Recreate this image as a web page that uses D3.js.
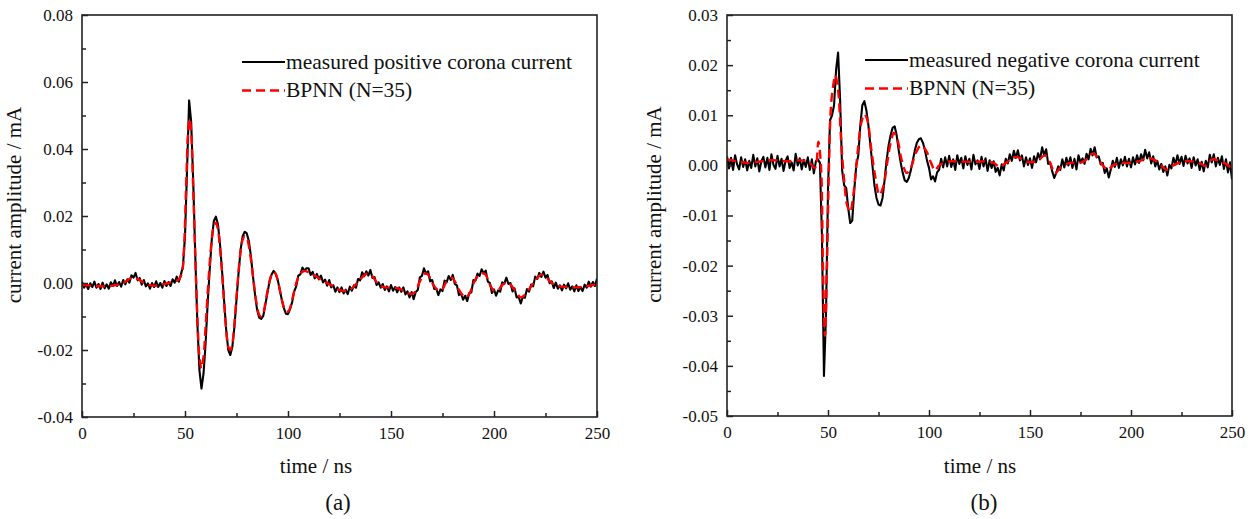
<!DOCTYPE html>
<html>
<head>
<meta charset="utf-8">
<script src="https://cdn.jsdelivr.net/npm/d3@7"></script>
<style>
  body { margin: 0; background: #fff; }
  svg { display: block; }
  svg text { font-family: "Liberation Serif", "Times New Roman", serif; }
</style>
</head>
<body>
<div id="chart"></div>
<script>
// Sampling step of the measured records (ns)
const sampleStep = 1;

// (a) measured positive corona current, µA, one value per ns from 0 to 250
const measuredA = [
  0.4, -1.4, -0.4, -1.8, -0.1, -1.2, 0.4, -1.4, -0.3, -1.8,
  0.1, -1.6, -0.4, -1.7, 0.2, -0.9, 0.8, -0.9, 0.3, -1.1,
  0.9, -0.4, 1.1, 0.1, 2.3, 1.6, 3.0, 0.8, 1.5, -0.5,
  0.9, -1.0, -0.1, -1.7, 0.0, -1.2, 0.5, -1.2, 0.0, -1.4,
  0.6, -0.9, 0.3, -0.9, 1.1, 0.1, 1.9, 0.4, 2.5, 5.0,
  14, 34, 54.5, 48, 30, 8, -12, -26, -31.5, -27,
  -18, -6, 4, 13, 18.5, 19.8, 17.5, 11.5, 3.5, -5.5,
  -14, -20, -21.5, -19, -13, -5, 3, 10, 14, 15.3,
  14.8, 12.5, 8, 2, -3.5, -8, -10.3, -10.7, -9.8, -6.5,
  -3, 0.3, 2.5, 3.6, 2.8, 1, -2, -5, -7.5, -9.2,
  -9.3, -7.8, -5.8, -2.5, -1.0, 2.2, 2.6, 4.6, 3.7, 4.4,
  4.4, 2.4, 3.3, 1.4, 2.7, 1.1, 2.2, 0.2, 1.0, -0.8,
  0.9, -1.3, -0.7, -2.6, -1.3, -2.7, -1.3, -3.1, -2.0, -3.3,
  -1.1, -2.3, -0.7, -1.4, 1.2, 0.8, 3.2, 2.0, 3.5, 2.2,
  3.9, 1.5, 1.8, -0.6, 0.2, -1.4, -0.3, -2.1, -1.0, -2.5,
  -0.6, -2.3, -1.2, -2.8, -1.3, -2.6, -1.3, -3.4, -2.5, -4.3,
  -2.7, -4.8, -2.7, -2.1, 1.7, 2.1, 4.4, 2.8, 3.5, 0.5,
  0.9, -1.8, -1.7, -3.6, -1.9, -2.4, 0.7, 0.2, 2.1, 0.9,
  2.4, -0.3, -0.7, -3.6, -3.1, -5.0, -3.8, -5.4, -3.0, -2.8,
  0.9, 0.7, 2.8, 2.1, 4.1, 2.9, 3.7, 0.4, 0.0, -3.0,
  -1.9, -3.8, -2.2, -2.6, 0.2, -0.2, 1.6, -0.3, 0.0, -2.5,
  -1.6, -4.3, -4.2, -6.1, -4.1, -4.4, -1.8, -2.6, -0.5, -1.0,
  1.9, 1.2, 3.0, 1.8, 3.4, 1.6, 2.4, -0.1, 0.5, -1.5,
  0.1, -1.7, -0.7, -2.2, -0.5, -1.6, -0.1, -2.0, -1.0, -2.5,
  -0.7, -2.4, -1.2, -2.4, -0.5, -1.4, 0.4, -1.1, 0.3, -0.9, 1.3
];

// (a) BPNN (N=35) output: [time ns, current µA]
const bpnnA = [
  [0, -0.5], [5, -0.8], [10, -1], [15, -0.8], [20, 0], [24, 1.5], [27, 1.2], [31, -0.3],
  [35, -0.8], [40, -0.3], [45, 0.5], [47, 1], [48.5, 3], [49.5, 10], [50.5, 28], [51.5, 45],
  [52.3, 49], [53, 45], [54, 28], [55, 8], [56, -10], [57, -22], [58, -25.5], [59, -22],
  [60, -13], [61, -3], [62, 6], [63, 13], [64, 17], [65, 18], [66, 16], [67, 10.5], [68, 3],
  [69, -6], [70, -14], [71, -19], [72, -20], [73, -18], [74, -12], [75, -4], [76, 3.5],
  [77, 9.5], [78, 13], [79, 14], [80, 13.5], [81, 11], [82, 7], [83, 2], [84, -3], [85, -7],
  [86, -9.5], [87, -10], [88, -9], [89, -6], [90, -2.5], [91, 0.5], [92, 2.5], [93, 3.3],
  [94, 2.8], [95, 0.8], [96, -2], [97, -5], [98, -7.3], [99, -8.5], [100, -8.5], [101, -7.5],
  [102, -5], [103, -2.5], [104, 0], [105, 1.7], [106, 2.8], [108, 3.6], [110, 3.2], [114, 1.8],
  [118, 0.3], [122, -1], [126, -2.3], [130, -2], [134, 0.3], [137, 2.3], [139, 2.8], [141, 2],
  [144, -0.5], [147, -1.3], [152, -1.4], [156, -2.2], [160, -3.3], [162, -2.5], [164, 0.5],
  [166.5, 2.8], [168, 2.5], [170, 0], [173, -2.2], [175, -1.8], [177, 0.5], [179.5, 1.6],
  [181, 0.5], [183, -2], [186, -4.3], [188, -3.3], [190, -0.2], [192, 2], [194.5, 2.9],
  [196, 2.4], [198, -0.5], [200, -2.3], [202, -2.2], [204, -0.6], [206.5, 0.2], [208, -0.5],
  [210, -2], [213, -4.3], [215, -3.5], [218, -1], [220, 0.8], [223, 2.5], [225, 2], [227, 0.6],
  [230, -0.7], [235, -1.2], [240, -1.3], [245, -1], [248, -0.6], [250, -0.2]
];

// (b) measured negative corona current, µA, one value per ns from 0 to 250
const measuredB = [
  1.8, -0.6, 1.5, -0.9, 2.0, 0.2, -0.8, 1.6, -0.3, 1.2,
  -1.0, 0.9, -0.5, 2.1, -0.2, 1.4, -1.2, 0.8, 1.7, -0.4,
  1.5, -0.9, 2.2, 0.1, -0.7, 1.9, -0.2, 1.3, -1.1, 0.9,
  1.8, -0.5, 0.6, -1.0, 2.3, 0.0, 1.4, -0.8, 1.1, -0.3,
  1.6, -0.9, 1.2, -1.6, 0.8, 1.2, 0.5, -14, -42, -30,
  -5, 9, 10, 12, 19, 22.5, 13, -1, -4, -4.5,
  -8.5, -11.5, -11, -5, 0, 2, 8, 12, 12.8, 11,
  8, 4, 0, -4, -6.5, -7.8, -8, -6.5, -3, 1,
  4, 6, 7.5, 7.8, 6, 3, 0.5, -1.5, -3, -3.3,
  -2.5, -1, 1, 3, 4.5, 5.2, 5.4, 4.5, 3, 1,
  -0.5, -2.8, -2.2, -3.2, -1.4, -0.9, 1.3, -0.4, 1.6, -0.2,
  1.9, -0.3, 1.2, -0.9, 2.0, 0.3, 1.5, -0.6, 1.8, 0.1,
  1.3, -0.8, 2.1, 0.2, 1.0, -0.7, 1.7, -0.2, 1.4, -1.1,
  1.0, -0.5, 0.8, -1.3, -0.5, -2.0, 0.2, -1.0, 1.3, 0.4,
  2.2, 0.9, 2.9, 1.5, 3.0, 1.0, 2.0, -0.2, 1.6, 0.1,
  1.4, -0.5, 1.8, 0.6, 2.4, 1.2, 3.6, 2.0, 3.2, 0.3,
  0.5, -1.2, -2.5, -1.5, -0.2, -0.9, 1.2, -0.4, 1.5, 0.0,
  1.6, -0.5, 1.3, -0.8, 2.0, 0.6, 1.4, 0.3, 2.3, 1.2,
  3.3, 2.0, 3.6, 1.6, 1.8, 0.2, 0.5, -1.5, -0.6, -2.4,
  -0.8, 0.9, -0.3, 1.5, -0.5, 1.2, 0.0, 1.7, -0.2, 1.3,
  -0.4, 1.6, 0.2, 2.0, 0.5, 2.2, 1.0, 3.1, 1.4, 2.6,
  0.4, 1.8, -0.2, 0.9, -0.8, 0.3, -1.3, -0.2, -2.0, 0.1,
  -0.6, 1.5, 0.2, 2.0, 0.3, 1.7, -0.1, 1.9, 0.4, 1.4,
  -0.5, 1.6, 0.0, 1.2, -0.9, 0.7, -1.2, 0.9, -0.4, 2.1,
  0.6, 2.2, -0.2, 1.5, 0.1, 1.8, -0.7, 1.2, -1.4, 0.6, -2.8
];

// (b) BPNN (N=35) output: [time ns, current µA]
const bpnnB = [
  [0, 1.2], [5, 0.8], [10, 0.5], [15, 0.7], [20, 1], [25, 1], [30, 0.8], [35, 1], [40, 0.8],
  [43.5, -0.5], [45.2, 4.7], [46.5, 0], [47.5, -20], [48.5, -34], [49.5, -20], [50.5, 0],
  [51.5, 12], [52.6, 16], [53.6, 18], [55, 15], [56.5, 5], [58, -3], [59.5, -8], [61, -9.3],
  [62.5, -6], [64.5, 2], [66.5, 8.5], [68, 10.2], [69.5, 9], [71.5, 3], [73.5, -2.5],
  [75.5, -5.9], [77.5, -4], [79.5, 1], [81, 4.5], [82.7, 6.5], [84.5, 5], [86.5, 1], [89, -1.5],
  [91, -0.5], [93.5, 2.5], [96, 4], [98.5, 3], [101, 0.5], [103, -1], [105, 0], [110, 0.8],
  [115, 0.8], [122, 0.7], [128, 0.8], [132, 0.5], [135, -0.3], [138, 0.5], [143.4, 1.7],
  [147, 1], [150, 0.6], [154, 1], [157.4, 2], [160, 0.5], [162.4, -1.6], [165, -0.5],
  [169.8, 0.5], [175, 0.5], [178, 1.2], [181.3, 2.4], [184, 1.2], [186, 0], [188.8, -0.9],
  [191, 0], [195.4, 0.5], [200, 0.5], [204, 0.8], [208.6, 1.5], [212, 1], [215, 0],
  [217.7, -0.9], [221, 0], [225.8, 0.8], [230, 0.8], [234, 0.5], [236.6, -0.1], [240, 1.2],
  [244, 0.8], [247, 0.3], [250, -0.6]
];

// Axis settings
const xDomain = [0, 250];
const xTicks = [0, 50, 100, 150, 200, 250];
const xMinorTicks = [25, 75, 125, 175, 225];
const yDomainA = [-0.04, 0.08];
const yTicksA = [-0.04, -0.02, 0.00, 0.02, 0.04, 0.06, 0.08];
const yMinorTicksA = [-0.03, -0.01, 0.01, 0.03, 0.05, 0.07];
const yDomainB = [-0.05, 0.03];
const yTicksB = [-0.05, -0.04, -0.03, -0.02, -0.01, 0.00, 0.01, 0.02, 0.03];
const yMinorTicksB = [-0.045, -0.035, -0.025, -0.015, -0.005, 0.005, 0.015, 0.025];

const width = 1255;
const height = 519;
const serif = "'Liberation Serif', 'Times New Roman', serif";

const svg = d3.select("#chart").append("svg")
  .attr("width", width)
  .attr("height", height);

const toPoints = arr => arr.map((v, i) => [i * sampleStep, v / 1000]);
const toMA = arr => arr.map(d => [d[0], d[1] / 1000]);

drawPanel({
  box: { left: 82, right: 597, top: 15, bottom: 417 },
  yDomain: yDomainA, yTicks: yTicksA, yMinor: yMinorTicksA,
  measured: toPoints(measuredA), bpnn: toMA(bpnnA),
  legendX: 242, legendY: 62, legendGap: 28.5,
  legendText: "measured positive corona current",
  yTitleX: 21, xTitleX: 316, tag: "(a)", tagX: 338
});

drawPanel({
  box: { left: 727, right: 1232, top: 15, bottom: 416 },
  yDomain: yDomainB, yTicks: yTicksB, yMinor: yMinorTicksB,
  measured: toPoints(measuredB), bpnn: toMA(bpnnB),
  legendX: 865, legendY: 60, legendGap: 28.5,
  legendText: "measured negative corona current",
  yTitleX: 661, xTitleX: 980, tag: "(b)", tagX: 984
});

/**
 * Draw one panel: frame, axes, both curves and legend
 */
function drawPanel(p) {
  const b = p.box;
  const x = d3.scaleLinear().domain(xDomain).range([b.left, b.right]);
  const y = d3.scaleLinear().domain(p.yDomain).range([b.bottom, b.top]);

  const clipId = "clip" + b.left;
  svg.append("clipPath").attr("id", clipId)
    .append("rect")
    .attr("x", b.left).attr("y", b.top)
    .attr("width", b.right - b.left).attr("height", b.bottom - b.top);

  const plot = svg.append("g").attr("clip-path", `url(#${clipId})`);

  // measured curve (black)
  plot.append("path")
    .datum(p.measured)
    .attr("fill", "none")
    .attr("stroke", "#000")
    .attr("stroke-width", 2.1)
    .attr("stroke-linejoin", "round")
    .attr("d", d3.line().x(d => x(d[0])).y(d => y(d[1])));

  // BPNN curve (red dashed)
  plot.append("path")
    .datum(p.bpnn)
    .attr("fill", "none")
    .attr("stroke", "#ff0000")
    .attr("stroke-width", 2.4)
    .attr("stroke-dasharray", "9,5")
    .attr("d", d3.line().curve(d3.curveCatmullRom).x(d => x(d[0])).y(d => y(d[1])));

  const fmt = d => d3.format(".2f")(d).replace("\u2212", "-");

  // x axis, ticks pointing inward
  const xAxis = svg.append("g")
    .attr("transform", `translate(0,${b.bottom})`)
    .call(d3.axisBottom(x).tickValues(xTicks).tickSizeInner(-6).tickSizeOuter(0).tickPadding(10));
  svg.append("g")
    .attr("transform", `translate(0,${b.bottom})`)
    .call(d3.axisBottom(x).tickValues(xMinorTicks).tickSizeInner(-4).tickSizeOuter(0).tickFormat(""));

  // y axis
  const yAxis = svg.append("g")
    .attr("transform", `translate(${b.left},0)`)
    .call(d3.axisLeft(y).tickValues(p.yTicks).tickFormat(fmt).tickSizeInner(-6).tickSizeOuter(0).tickPadding(9));
  svg.append("g")
    .attr("transform", `translate(${b.left},0)`)
    .call(d3.axisLeft(y).tickValues(p.yMinor).tickSizeInner(-4).tickSizeOuter(0).tickFormat(""));

  svg.selectAll(".domain").remove();
  svg.selectAll(".tick line").attr("stroke", "#222").attr("stroke-width", 1.5);
  [xAxis, yAxis].forEach(g => {
    g.attr("font-family", null).attr("font-size", null);
    g.selectAll("text")
      .style("font-family", serif)
      .attr("font-size", 17)
      .attr("fill", "#111");
  });

  // frame
  svg.append("rect")
    .attr("x", b.left).attr("y", b.top)
    .attr("width", b.right - b.left).attr("height", b.bottom - b.top)
    .attr("fill", "none")
    .attr("stroke", "#222")
    .attr("stroke-width", 1.6);

  // axis titles
  svg.append("text")
    .attr("x", p.xTitleX)
    .attr("y", 473)
    .attr("text-anchor", "middle")
    .attr("font-size", 21)
    .attr("fill", "#111")
    .text("time / ns");

  svg.append("text")
    .attr("transform", `translate(${p.yTitleX},${(b.top + b.bottom) / 2 - 11}) rotate(-90)`)
    .attr("text-anchor", "middle")
    .attr("font-size", 21)
    .attr("fill", "#111")
    .text("current amplitude / mA");

  svg.append("text")
    .attr("x", p.tagX)
    .attr("y", 510)
    .attr("text-anchor", "middle")
    .attr("font-size", 23)
    .attr("fill", "#111")
    .text(p.tag);

  // legend
  const lg = svg.append("g");
  lg.append("line")
    .attr("x1", p.legendX).attr("x2", p.legendX + 43)
    .attr("y1", p.legendY).attr("y2", p.legendY)
    .attr("stroke", "#000").attr("stroke-width", 2);
  lg.append("text")
    .attr("x", p.legendX + 44).attr("y", p.legendY + 6.5)
    .attr("font-size", 21.5).attr("fill", "#111")
    .text(p.legendText);
  lg.append("line")
    .attr("x1", p.legendX).attr("x2", p.legendX + 43)
    .attr("y1", p.legendY + p.legendGap).attr("y2", p.legendY + p.legendGap)
    .attr("stroke", "#ff0000").attr("stroke-width", 2.4)
    .attr("stroke-dasharray", "9,5");
  lg.append("text")
    .attr("x", p.legendX + 44).attr("y", p.legendY + p.legendGap + 6.5)
    .attr("font-size", 21.5).attr("fill", "#111")
    .text("BPNN (N=35)");
}
</script>
</body>
</html>
